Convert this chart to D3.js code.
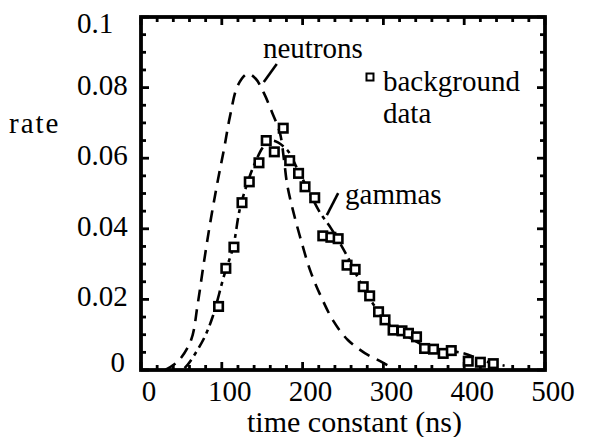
<!DOCTYPE html>
<html>
<head>
<meta charset="utf-8">
<script src="https://cdn.jsdelivr.net/npm/d3@7"></script>
<style>
  body { margin: 0; background: #fff; }
</style>
</head>
<body>
<svg width="589" height="437"></svg>
<script>
// background data points (time constant ns, rate)
const bgTime = [96, 105, 115, 125, 134, 146, 155, 165, 176, 184, 195, 203, 215, 225, 235, 244,
  255, 265, 275, 283, 294, 302, 312, 323, 331, 341, 351, 362, 374, 384, 405, 420, 436];
const bgRate = [0.018, 0.0288, 0.0348, 0.0474, 0.0533, 0.0587, 0.065, 0.0618, 0.0685, 0.0593,
  0.0557, 0.0519, 0.0488, 0.038, 0.0376, 0.0372, 0.0297, 0.0285, 0.0236, 0.021, 0.0165, 0.0142,
  0.0113, 0.0111, 0.0104, 0.0094, 0.0061, 0.0059, 0.0047, 0.0055, 0.0025, 0.0022, 0.0018];

// neutron curve (dashed)
const nTime = [30, 46, 62, 70, 77, 85, 94, 103, 110, 120, 132, 142, 152, 162, 172, 177, 181,
  188, 198, 210, 223, 238, 256, 277, 296, 308];
const nRate = [0, 0.0025, 0.0085, 0.0184, 0.0292, 0.0408, 0.0524, 0.0629, 0.0717, 0.0807,
  0.0839, 0.0825, 0.0785, 0.0731, 0.0671, 0.0595, 0.0524, 0.0453, 0.0368, 0.0278, 0.0207,
  0.0139, 0.0085, 0.0048, 0.0025, 0.001];

// gamma curve (dash-dot)
const gTime = [54, 61, 78, 89, 103, 114, 122, 130, 141, 153, 163, 181, 193, 207, 221, 235,
  246, 259, 273, 290, 308, 333, 358, 398, 426, 450];
const gRate = [0.0005, 0.0025, 0.009, 0.0153, 0.0269, 0.0348, 0.0453, 0.0518, 0.0586, 0.0637,
  0.065, 0.0623, 0.0572, 0.051, 0.0448, 0.0402, 0.036, 0.0306, 0.0241, 0.0178, 0.0127, 0.0091,
  0.0062, 0.0048, 0.0025, 0.0012];

const xTicks = [0, 100, 200, 300, 400, 500];
const yTicks = [0, 0.02, 0.04, 0.06, 0.08, 0.1];
const yTickLabels = ["0", "0.02", "0.04", "0.06", "0.08", "0.1"];

const serif = "Liberation Serif";

const svg = d3.select("svg");
const plotL = 141, plotR = 545, plotT = 17, plotB = 370;

const x = d3.scaleLinear().domain([0, 500]).range([plotL, plotR]);
const y = d3.scaleLinear().domain([0, 0.1]).range([plotB, plotT]);

svg.append("rect").attr("width", 589).attr("height", 437).attr("fill", "#fff");

// ticks inside the frame on all four sides
const ticks = svg.append("g").attr("stroke", "#000").attr("stroke-width", 2.8);
d3.range(0, 501, 20).forEach(v => {
  const len = v % 100 === 0 ? 8 : 5;
  ticks.append("line").attr("x1", x(v)).attr("x2", x(v)).attr("y1", plotB).attr("y2", plotB - len);
  ticks.append("line").attr("x1", x(v)).attr("x2", x(v)).attr("y1", plotT).attr("y2", plotT + len);
});
d3.range(0, 0.1001, 0.005).forEach(v => {
  const len = Math.round(v * 1000) % 20 === 0 ? 8 : 5;
  ticks.append("line").attr("y1", y(v)).attr("y2", y(v)).attr("x1", plotL).attr("x2", plotL + len);
  ticks.append("line").attr("y1", y(v)).attr("y2", y(v)).attr("x1", plotR).attr("x2", plotR - len);
});

svg.append("rect")
  .attr("x", plotL).attr("y", plotT)
  .attr("width", plotR - plotL).attr("height", plotB - plotT)
  .attr("fill", "none").attr("stroke", "#000").attr("stroke-width", 3.8);

const txt = svg.append("g").attr("font-family", serif).attr("fill", "#000").attr("font-size", 29);

// tick labels
txt.append("g").selectAll("text")
  .data(xTicks).enter().append("text")
  .attr("x", d => x(d) + 8)
  .attr("y", 401)
  .attr("text-anchor", "middle")
  .text(d => d);

txt.append("g").selectAll("text")
  .data(yTicks).enter().append("text")
  .attr("x", d => d === 0 ? 125 : 77)
  .attr("y", d => d === 0.1 ? 33 : d === 0 ? 372 : y(d) + 7)
  .attr("text-anchor", d => d === 0 ? "end" : "start")
  .text((d, i) => yTickLabels[i]);

// axis titles
txt.append("text").attr("x", 9).attr("y", 133)
  .attr("letter-spacing", 2).text("rate");
txt.append("text").attr("x", 247).attr("y", 432).attr("font-size", 30)
  .text("time constant (ns)");

// curves
const line = d3.line().x(d => x(d[0])).y(d => y(d[1])).curve(d3.curveCatmullRom);

svg.append("path")
  .datum(d3.zip(nTime, nRate))
  .attr("d", line)
  .attr("fill", "none").attr("stroke", "#000").attr("stroke-width", 2.6)
  .attr("stroke-dasharray", "12,8");

svg.append("path")
  .datum(d3.zip(gTime, gRate))
  .attr("d", line)
  .attr("fill", "none").attr("stroke", "#000").attr("stroke-width", 2.6)
  .attr("stroke-dasharray", "11,5,4,5");

// data squares
svg.append("g").selectAll("rect")
  .data(d3.zip(bgTime, bgRate)).enter().append("rect")
  .attr("x", d => x(d[0]) - 4.25)
  .attr("y", d => y(d[1]) - 4.25)
  .attr("width", 8.5).attr("height", 8.5)
  .attr("fill", "#fff").attr("stroke", "#000").attr("stroke-width", 2.6);

// annotations
txt.append("text").attr("x", x(151)).attr("y", y(0.0884)).text("neutrons");
svg.append("line")
  .attr("x1", x(168)).attr("y1", y(0.0867)).attr("x2", x(152)).attr("y2", y(0.0816))
  .attr("stroke", "#000").attr("stroke-width", 2.6);

txt.append("text").attr("x", x(252.5)).attr("y", y(0.047)).text("gammas");
svg.append("line")
  .attr("x1", x(244)).attr("y1", y(0.0501)).attr("x2", x(230)).attr("y2", y(0.0439))
  .attr("stroke", "#000").attr("stroke-width", 2.6);

svg.append("rect")
  .attr("x", x(283.4) - 3.5).attr("y", y(0.083) - 3.5)
  .attr("width", 7).attr("height", 7)
  .attr("fill", "#fff").attr("stroke", "#000").attr("stroke-width", 2);
txt.append("text").attr("x", x(299.5)).attr("y", y(0.079)).text("background");
txt.append("text").attr("x", x(299.5)).attr("y", y(0.07)).text("data");
</script>
</body>
</html>
